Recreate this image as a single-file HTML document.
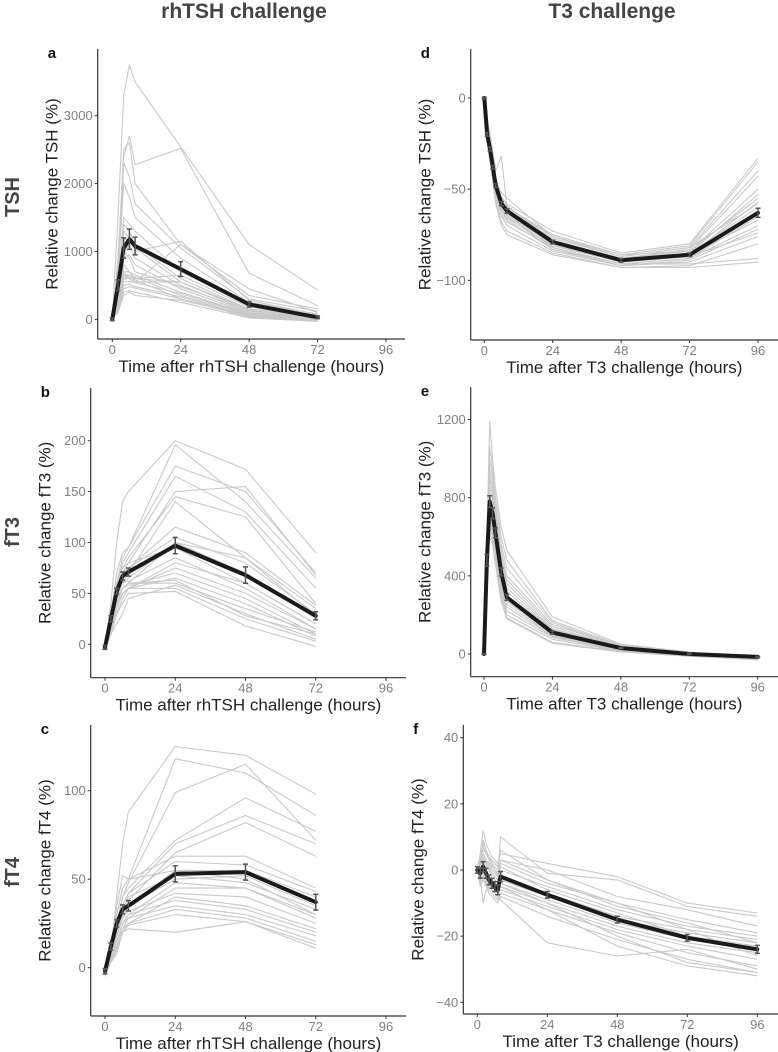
<!DOCTYPE html>
<html><head><meta charset="utf-8">
<style>
html,body{margin:0;padding:0;background:#fff;}
svg{display:block;font-family:"Liberation Sans",sans-serif;}
</style></head>
<body>
<svg id="fig" width="778" height="1052" viewBox="0 0 778 1052" xmlns="http://www.w3.org/2000/svg">
<text x="244" y="18" text-anchor="middle" font-size="21" font-weight="bold" fill="#444">rhTSH challenge</text>
<text x="612" y="18" text-anchor="middle" font-size="21" font-weight="bold" fill="#444">T3 challenge</text>
<text transform="translate(19,197) rotate(-90)" text-anchor="middle" font-size="20" font-weight="bold" fill="#444">TSH</text>
<text transform="translate(19,532) rotate(-90)" text-anchor="middle" font-size="20" font-weight="bold" fill="#444">fT3</text>
<text transform="translate(19,872) rotate(-90)" text-anchor="middle" font-size="20" font-weight="bold" fill="#444">fT4</text>
</svg>
<script>
// ---------- data ----------
const timesA = [0,2,4,6,8,24,48,72];
const subjectsA = [
[0,1500,3300,3750,3500,2540,1100,430],[0,900,2400,2700,2280,2520,680,200],[0,800,2500,2600,2000,1100,350,150],
[0,700,2300,2100,1700,1050,300,120],[0,600,2000,1800,1500,900,250,80],[0,500,1500,1400,1300,700,200,60],
[0,400,1400,1300,1100,600,150,40],[0,350,1200,1150,1050,550,120,30],[0,300,1000,1100,900,500,100,20],
[0,300,900,950,800,450,90,10],[0,250,700,700,650,400,80,0],[0,200,650,650,600,550,150,50],
[0,250,600,650,620,350,60,-20],[0,200,580,620,580,300,50,-10],[0,180,550,560,540,380,70,0],
[0,150,500,520,480,330,40,-20],[0,150,450,480,460,300,30,-30],[0,120,400,420,400,250,20,-30],
[0,200,800,700,600,650,180,40],[0,300,1000,900,700,480,130,30],[0,100,350,400,350,280,60,-10],
[0,400,1300,1200,1000,1150,280,70],[0,250,650,600,550,1100,450,100],[0,180,700,600,550,550,140,20]];
const meanA = [0,500,1050,1180,1080,740,220,30];
const errA = [20,80,150,150,130,110,40,20];
const ticksA = [0,1000,2000,3000];

const timesB = [0,2,4,6,8,24,48,72];
const subjectsB = [
[0,40,100,140,150,200,172,90],[-3,30,70,90,95,196,140,65],[-2,25,60,85,95,175,150,70],[-4,20,55,80,90,165,130,55],
[-3,20,50,70,80,150,155,68],[-2,25,60,75,85,145,125,40],[-5,15,45,60,70,140,85,35],[-3,20,55,65,75,115,90,38],
[-2,20,55,70,75,105,80,30],[-3,20,50,60,65,100,70,25],[-4,15,40,55,60,100,85,28],[-3,25,60,75,80,95,60,20],
[-2,20,50,60,62,85,55,15],[-4,10,30,45,55,80,60,20],[-3,15,40,50,55,75,50,15],[-3,15,45,55,58,70,45,10],
[-4,10,35,50,55,65,40,8],[-3,15,40,55,60,60,35,12],[-5,10,20,30,45,58,30,5],[-3,12,35,50,55,55,25,3],
[-4,10,30,40,50,52,18,-2],[-3,15,40,55,60,63,28,10]];
const meanB = [-3,25,52,67,71,97,68,28];
const errB = [2,3,3,4,4,8,8,4];
const ticksB = [0,50,100,150,200];

const timesC = [0,2,4,6,8,24,48,72];
const subjectsC = [
[-2,10,40,70,88,125,120,98],[-2,10,30,45,50,118,110,86],[-3,5,25,40,48,99,115,72],[-2,8,25,40,45,72,96,77],
[-3,8,22,35,42,70,86,70],[-4,6,20,30,38,65,82,63],[-2,10,30,45,50,63,63,45],[-3,8,25,35,42,60,58,43],
[-3,5,20,30,35,55,55,40],[-4,5,18,28,35,50,52,35],[-2,6,20,32,40,52,48,33],[-3,4,15,25,30,48,45,30],
[-4,5,15,25,28,45,45,28],[-3,6,18,28,32,42,40,25],[-5,3,8,20,25,40,35,22],[-3,5,15,25,30,38,33,20],
[-4,4,12,22,28,35,30,18],[-3,5,15,22,25,33,28,15],[-4,3,10,20,24,30,26,13],[-3,4,12,20,22,20,26,11],
[-2,10,35,52,50,55,50,30]];
const meanC = [-2,12,25,33,35,53,54,37];
const errC = [1.5,2,2,2.5,3,4.5,4.5,4.5];
const ticksC = [0,50,100];

const timesD = [0,1,2,3,4,6,8,24,48,72,96];
const subjectsD = [
[0,-15,-25,-35,-45,-55,-58,-73,-85,-80,-33],[0,-18,-27,-37,-47,-56,-60,-75,-86,-81,-35],
[0,-20,-28,-38,-48,-57,-61,-77,-87,-82,-40],[0,-22,-30,-40,-50,-60,-62,-78,-88,-83,-43],
[0,-17,-26,-36,-46,-52,-55,-76,-86,-84,-50],[0,-19,-29,-39,-49,-58,-63,-79,-89,-85,-53],
[0,-21,-31,-41,-51,-60,-64,-80,-90,-86,-57],[0,-16,-24,-34,-44,-54,-59,-78,-88,-85,-60],
[0,-20,-30,-42,-53,-62,-66,-81,-90,-87,-62],[0,-23,-32,-44,-55,-64,-68,-82,-91,-88,-65],
[0,-18,-28,-38,-48,-58,-62,-80,-90,-86,-67],[0,-20,-29,-40,-52,-61,-65,-83,-91,-88,-70],
[0,-22,-31,-43,-55,-65,-70,-84,-92,-89,-72],[0,-19,-28,-39,-49,-59,-63,-81,-89,-87,-74],
[0,-21,-30,-41,-51,-62,-67,-83,-92,-90,-76],[0,-24,-35,-47,-58,-70,-75,-86,-93,-92,-80],
[0,-20,-30,-40,-50,-60,-64,-82,-91,-91,-88],[0,-22,-33,-45,-57,-68,-73,-85,-93,-93,-90],
[0,-12,-20,-30,-40,-32,-60,-76,-87,-82,-58],[0,-18,-27,-37,-47,-57,-62,-79,-88,-84,-55]];
const meanD = [0,-20,-28,-38,-48,-58,-62,-79,-89,-86,-63];
const errD = [0.5,1,1,1,1,1.2,1.2,1,1,1,2.5];
const ticksD = [0,-50,-100];

const timesE = [0,1,2,3,4,6,8,24,48,72,96];
const subjectsE = [
[0,600,1190,1000,850,650,530,190,50,10,-20],[0,550,1060,950,800,600,480,170,45,5,-15],
[0,520,1000,900,760,560,440,160,40,5,-18],[0,500,950,850,720,530,400,150,40,0,-20],
[0,480,900,820,700,500,380,140,35,0,-15],[0,470,860,790,680,480,360,130,35,0,-20],
[0,460,820,760,650,460,340,125,30,0,-18],[0,450,800,740,630,440,320,120,30,-5,-20],
[0,440,780,720,610,420,300,110,28,-5,-25],[0,430,760,700,590,400,285,105,25,-5,-22],
[0,420,740,680,570,380,270,100,25,-5,-20],[0,410,720,660,550,360,255,95,22,-8,-25],
[0,400,700,640,530,340,240,90,20,-8,-28],[0,390,680,620,510,320,220,85,18,-10,-25],
[0,380,650,600,490,300,200,75,15,-10,-30],[0,370,620,570,470,280,185,60,12,-12,-28],
[0,390,600,560,460,270,180,55,10,-10,-25]];
const meanE = [0,480,780,720,620,420,290,110,30,0,-15];
const errE = [2,30,30,28,25,20,15,8,4,3,3];
const ticksE = [0,400,800,1200];

const timesF = [0,1,2,3,4,5,6,7,8,24,48,72,96];
const subjectsF = [
[0,5,12,8,6,4,3,2,5,2,-2,-10,-13],[0,3,8,6,4,2,0,-1,10,-1,-3,-11,-14],[0,4,6,5,3,1,0,-2,3,0,-8,-12,-17],
[0,2,5,3,1,-1,-2,-3,0,-5,-12,-17,-20],[0,1,3,1,0,-2,-3,-4,-2,-7,-14,-18,-21],[0,0,2,0,-2,-3,-4,-5,-3,-8,-15,-19,-22],
[0,-1,1,-1,-3,-4,-5,-6,-4,-9,-16,-21,-24],[0,-2,0,-2,-4,-5,-6,-7,-5,-10,-17,-22,-25],[0,-3,-1,-3,-5,-6,-7,-8,-6,-11,-18,-23,-27],
[0,-4,-2,-4,-6,-7,-8,-9,-7,-12,-19,-25,-29],[0,-5,-3,-5,-7,-8,-9,-10,-8,-14,-21,-27,-31],[0,-2,-10,-6,-5,-6,-7,-8,-9,-22,-26,-24,-30],
[0,3,7,5,4,3,2,1,6,-3,-10,-15,-19],[0,-1,4,2,0,-1,-2,-3,1,-6,-13,-20,-23],[0,-3,-2,-4,-5,-6,-7,-8,-5,-12,-23,-29,-32],
[0,1,5,3,2,0,-1,-2,2,-4,-10,-18,-26],[0,-2,1,-1,-3,-4,-6,-7,-4,-10,-20,-28,-31],[0,2,9,6,4,2,1,0,3,-3,-11,-16,-22]];
const meanF = [0,-1,1,-1,-3,-4,-5,-6,-2,-7.5,-15,-20.5,-24];
const errF = [1,1.5,1.5,1.5,1.5,1.5,1.5,1.5,1.5,1,1,1,1.2];
const ticksF = [-40,-20,0,20,40];

const xTicks = [0,24,48,72,96];

// ---------- layout ----------
const panels = [
 {id:'a',times:timesA,subs:subjectsA,mean:meanA,err:errA,yticks:ticksA,ax:97.7,top:49,bot:339,right:405,x0:112.3,x96:386,v0:0,p0:319.3,v1:3000,p1:115.7,ytitle:'Relative change TSH (%)',xtitle:'Time after rhTSH challenge (hours)'},
 {id:'b',times:timesB,subs:subjectsB,mean:meanB,err:errB,yticks:ticksB,ax:90.7,top:388,bot:677.7,right:406,x0:105,x96:386,v0:0,p0:644.3,v1:200,p1:440.7,ytitle:'Relative change fT3 (%)',xtitle:'Time after rhTSH challenge (hours)'},
 {id:'c',times:timesC,subs:subjectsC,mean:meanC,err:errC,yticks:ticksC,ax:90.7,top:725,bot:1016,right:406,x0:105,x96:386,v0:0,p0:967.7,v1:100,p1:790.7,ytitle:'Relative change fT4 (%)',xtitle:'Time after rhTSH challenge (hours)'},
 {id:'d',times:timesD,subs:subjectsD,mean:meanD,err:errD,yticks:ticksD,ax:470.7,top:49,bot:340,right:778,x0:484.3,x96:758,v0:0,p0:98,v1:-100,p1:280.3,ytitle:'Relative change TSH (%)',xtitle:'Time after T3 challenge (hours)'},
 {id:'e',times:timesE,subs:subjectsE,mean:meanE,err:errE,yticks:ticksE,ax:470.7,top:387,bot:676.7,right:778,x0:484,x96:757.7,v0:0,p0:654,v1:1200,p1:419.5,ytitle:'Relative change fT3 (%)',xtitle:'Time after T3 challenge (hours)'},
 {id:'f',times:timesF,subs:subjectsF,mean:meanF,err:errF,yticks:ticksF,ax:463.3,top:725,bot:1014,right:778,x0:477.3,x96:757.3,v0:40,p0:737.7,v1:-40,p1:1002.3,ytitle:'Relative change fT4 (%)',xtitle:'Time after T3 challenge (hours)'}
];
const svg = document.getElementById('fig');
const NS = 'http://www.w3.org/2000/svg';
function mk(tag, attrs, parent){
  const e = document.createElementNS(NS, tag);
  for (const k in attrs) e.setAttribute(k, attrs[k]);
  (parent||svg).appendChild(e);
  return e;
}
panels.forEach(p => {
  const xs = t => p.x0 + (t/96)*(p.x96-p.x0);
  const ys = v => p.p0 + (v-p.v0)/(p.v1-p.v0)*(p.p1-p.p0);
  const g = mk('g', {});
  
  
  // grey subject lines
  p.subs.forEach((s, i) => {
    const pts = s.map((v,j) => xs(p.times[j]).toFixed(1)+','+ys(v).toFixed(1)).join(' ');
    const l = mk('polyline', {points:pts, fill:'none', stroke:'#c9c9c9', 'stroke-width':1.1, 'stroke-linejoin':'round'}, g);
    
    
  });
  // mean line
  const mpts = p.mean.map((v,j) => xs(p.times[j]).toFixed(1)+','+ys(v).toFixed(1)).join(' ');
  const ml = mk('polyline', {points:mpts, fill:'none', stroke:'#1a1a1a', 'stroke-width':4, 'stroke-linejoin':'round', 'stroke-linecap':'round'}, g);
  
  
  // error bars
  p.mean.forEach((v,j) => {
    const x = xs(p.times[j]), y1 = ys(v+p.err[j]), y2 = ys(v-p.err[j]);
    const eb = mk('path', {d:`M${x},${y1}V${y2}M${x-2.5},${y1}H${x+2.5}M${x-2.5},${y2}H${x+2.5}`, stroke:'#555', 'stroke-width':1.5, fill:'none'}, g);
    
    
  });
  // axes
  const yax = mk('line', {x1:p.ax, y1:p.top, x2:p.ax, y2:p.bot, stroke:'#333', 'stroke-width':1.2}, g);
  
  
  const xax = mk('line', {x1:p.ax, y1:p.bot, x2:p.right, y2:p.bot, stroke:'#333', 'stroke-width':1.2}, g);
  
  
  p.yticks.forEach(v => {
    const y = ys(v);
    mk('line', {x1:p.ax-3, y1:y, x2:p.ax, y2:y, stroke:'#333', 'stroke-width':1}, g);
    const t = mk('text', {x:p.ax-5, y:y+4.5, 'text-anchor':'end', 'font-size':13, fill:'#7f7f7f'}, g);
    t.textContent = v < 0 ? '\u2212' + Math.abs(v) : v;
    
    
  });
  xTicks.forEach(v => {
    const x = xs(v);
    mk('line', {x1:x, y1:p.bot, x2:x, y2:p.bot+3, stroke:'#333', 'stroke-width':1}, g);
    const t = mk('text', {x:x, y:p.bot+15, 'text-anchor':'middle', 'font-size':13, fill:'#7f7f7f'}, g);
    t.textContent = v;
    
    
  });
  const cy = (p.top+p.bot)/2;
  const yt = mk('text', {transform:`translate(${p.ax-40},${cy}) rotate(-90)`, 'text-anchor':'middle', 'font-size':17, fill:'#222'}, g);
  yt.textContent = p.ytitle;
  
  
  const xt = mk('text', {x:(p.ax+p.right)/2, y:p.bot+33, 'text-anchor':'middle', 'font-size':17, fill:'#222'}, g);
  xt.textContent = p.xtitle;
  
  
  const lb = mk('text', {x:p.ax-50, y:p.top+9, 'font-size':15, 'font-weight':'bold', fill:'#111'}, g);
  lb.textContent = p.id;
  
  
});
</script>
</body></html>
